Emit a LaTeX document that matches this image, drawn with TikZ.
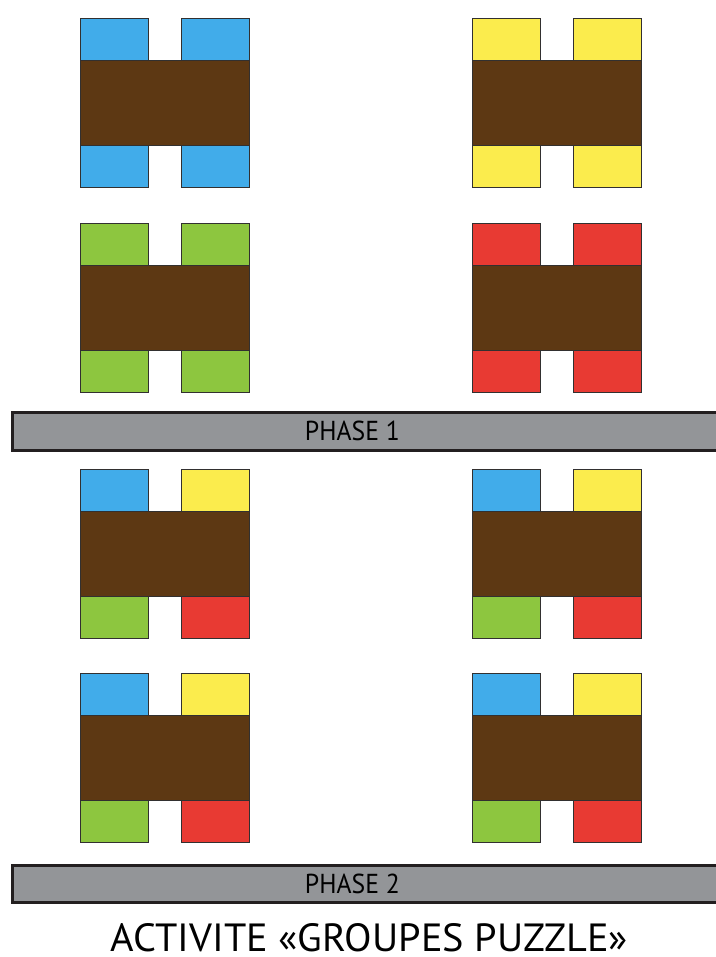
\documentclass[tikz,border=0pt]{standalone}
\usepackage{fontspec}
\newfontfamily\myrfont{PT Sans}
\usepackage{graphicx}
\definecolor{cblue}{RGB}{65,172,234}
\definecolor{cyellow}{RGB}{251,236,77}
\definecolor{cgreen}{RGB}{141,198,63}
\definecolor{cred}{RGB}{232,58,51}
\definecolor{cbrown}{RGB}{93,56,19}
\definecolor{cgray}{RGB}{147,149,152}
\definecolor{cline}{RGB}{50,48,48}
\definecolor{cbar}{RGB}{35,31,32}
\tikzset{
  sq/.style={draw=cline, line width=0.9pt},
  bodybox/.style={draw=cline, line width=0.9pt, fill=cbrown},
  phasebar/.style={draw=cbar, line width=3pt, fill=cgray},
}
% #1 x, #2 y, #3 top-left, #4 top-right, #5 bottom-left, #6 bottom-right
\newcommand\hblock[6]{%
  \filldraw[sq, fill=#3] (#1,#2) rectangle ++(68,42);
  \filldraw[sq, fill=#4] (#1+101,#2) rectangle ++(68,42);
  \filldraw[sq, fill=#5] (#1,#2+127) rectangle ++(68,42);
  \filldraw[sq, fill=#6] (#1+101,#2+127) rectangle ++(68,42);
  \filldraw[bodybox] (#1,#2+42) rectangle ++(169,85);
}
\begin{document}
\begin{tikzpicture}[x=1pt,y=-1pt]
\useasboundingbox (0,0) rectangle (715,957);
% Phase 1
\hblock{80}{18}{cblue}{cblue}{cblue}{cblue}
\hblock{472}{18}{cyellow}{cyellow}{cyellow}{cyellow}
\hblock{80}{223}{cgreen}{cgreen}{cgreen}{cgreen}
\hblock{472}{223}{cred}{cred}{cred}{cred}
\filldraw[phasebar] (12.5,412.5) rectangle (722,450);
\node[inner sep=0pt] (p1) at (352.5,431.3) {\resizebox{95pt}{19.5pt}{\myrfont PHASE 1}};
% Phase 2
\hblock{80}{469}{cblue}{cyellow}{cgreen}{cred}
\hblock{472}{469}{cblue}{cyellow}{cgreen}{cred}
\hblock{80}{673}{cblue}{cyellow}{cgreen}{cred}
\hblock{472}{673}{cblue}{cyellow}{cgreen}{cred}
\filldraw[phasebar] (12.5,865.5) rectangle (722,902.5);
\node[inner sep=0pt] (p2) at (352.5,884) {\resizebox{95pt}{19.5pt}{\myrfont PHASE 2}};
\node[inner sep=0pt] (title) at (369.5,937.5) {\resizebox{517pt}{28pt}{\myrfont ACTIVITE «GROUPES PUZZLE»}};
\end{tikzpicture}
\end{document}
